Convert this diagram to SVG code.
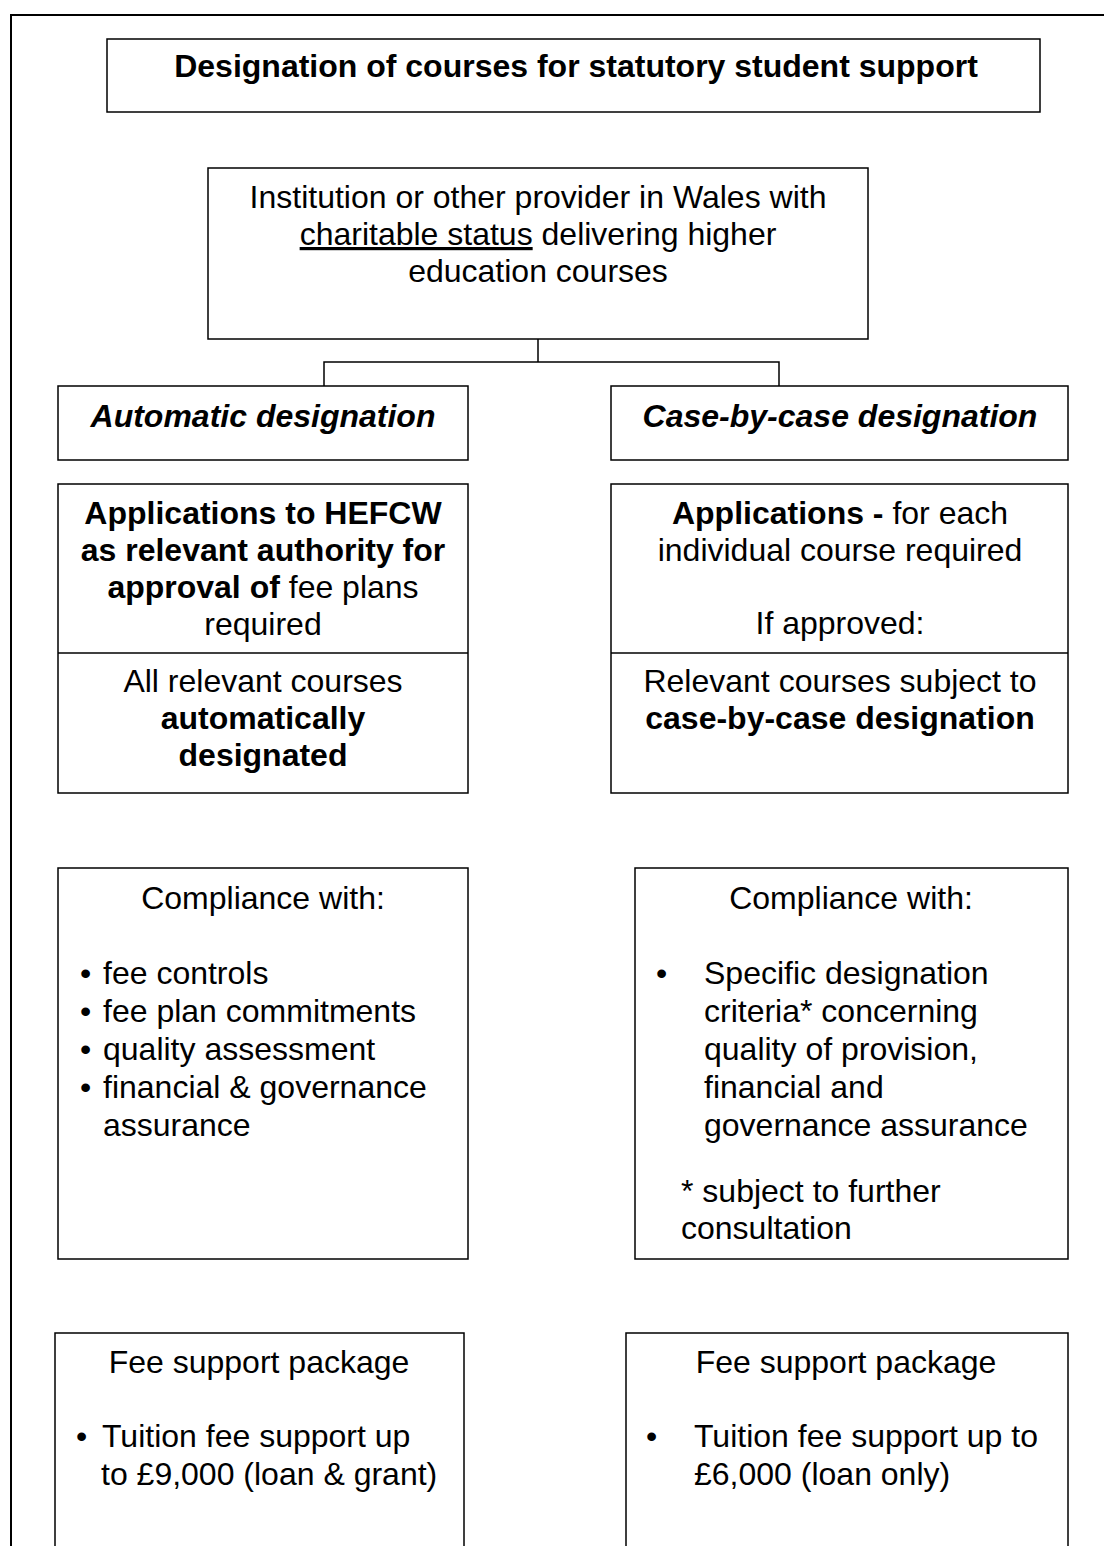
<svg xmlns="http://www.w3.org/2000/svg" width="1104" height="1546" viewBox="0 0 1104 1546">
  <style>
    .box { fill: #fff; stroke: #000; stroke-width: 1.5; }
    .frame { fill: none; stroke: #000; stroke-width: 2; }
    .wire { fill: none; stroke: #000; stroke-width: 1.5; }
    text { font-family: "Liberation Sans", Arial, sans-serif; font-size: 32px; fill: #000; }
    .c { text-anchor: middle; }
    .b { font-weight: bold; }
    .bi { font-weight: bold; font-style: italic; }
  </style>

  <rect width="1104" height="1546" fill="#fff"/>

  <!-- outer page frame (continues off the right and bottom edges) -->
  <rect class="frame" x="11" y="15" width="1200" height="1600"/>

  <g id="title">
    <rect class="box" x="107" y="39" width="933" height="73"/>
    <text class="c b" x="576" y="77">Designation of courses for statutory student support</text>
  </g>

  <g id="connectors">
    <path class="wire" d="M538 339 V362 M324 386 V362 H779 V386"/>
  </g>

  <g id="provider">
    <rect class="box" x="208" y="168" width="660" height="171"/>
    <text class="c" x="538" y="208">Institution or other provider in Wales with</text>
    <text class="c" x="538" y="245"><tspan text-decoration="underline">charitable status</tspan> delivering higher</text>
    <text class="c" x="538" y="282">education courses</text>
  </g>

  <g id="automatic">
    <rect class="box" x="58" y="386" width="410" height="74"/>
    <text class="c bi" x="263" y="427">Automatic designation</text>
  </g>

  <g id="case-by-case">
    <rect class="box" x="611" y="386" width="457" height="74"/>
    <text class="c bi" x="840" y="427">Case-by-case designation</text>
  </g>

  <g id="automatic-application">
    <rect class="box" x="58" y="484" width="410" height="309"/>
    <line class="wire" x1="58" y1="653" x2="468" y2="653"/>
    <text class="c b" x="263" y="524">Applications to HEFCW</text>
    <text class="c b" x="263" y="561">as relevant authority for</text>
    <text class="c" x="263" y="598"><tspan class="b">approval of</tspan> fee plans</text>
    <text class="c" x="263" y="635">required</text>
    <text class="c" x="263" y="692">All relevant courses</text>
    <text class="c b" x="263" y="729">automatically</text>
    <text class="c b" x="263" y="766">designated</text>
  </g>

  <g id="case-application">
    <rect class="box" x="611" y="484" width="457" height="309"/>
    <line class="wire" x1="611" y1="653" x2="1068" y2="653"/>
    <text class="c" x="840" y="524"><tspan class="b">Applications -</tspan> for each</text>
    <text class="c" x="840" y="561">individual course required</text>
    <text class="c" x="840" y="634">If approved:</text>
    <text class="c" x="840" y="692">Relevant courses subject to</text>
    <text class="c b" x="840" y="729">case-by-case designation</text>
  </g>

  <g id="automatic-compliance">
    <rect class="box" x="58" y="868" width="410" height="391"/>
    <text class="c" x="263" y="909">Compliance with:</text>
    <text x="80" y="984">•</text><text x="103" y="984">fee controls</text>
    <text x="80" y="1022">•</text><text x="103" y="1022">fee plan commitments</text>
    <text x="80" y="1060">•</text><text x="103" y="1060">quality assessment</text>
    <text x="80" y="1098">•</text><text x="103" y="1098">financial &amp; governance</text>
    <text x="103" y="1136">assurance</text>
  </g>

  <g id="case-compliance">
    <rect class="box" x="635" y="868" width="433" height="391"/>
    <text class="c" x="851" y="909">Compliance with:</text>
    <text x="656" y="984">•</text>
    <text x="704" y="984">Specific designation</text>
    <text x="704" y="1022">criteria* concerning</text>
    <text x="704" y="1060">quality of provision,</text>
    <text x="704" y="1098">financial and</text>
    <text x="704" y="1136">governance assurance</text>
    <text x="681" y="1202">* subject to further</text>
    <text x="681" y="1239">consultation</text>
  </g>

  <g id="automatic-fees">
    <rect class="box" x="55" y="1333" width="409" height="300"/>
    <text class="c" x="259" y="1373">Fee support package</text>
    <text x="76" y="1447">•</text>
    <text x="102" y="1447">Tuition fee support up</text>
    <text x="101" y="1485">to £9,000 (loan &amp; grant)</text>
  </g>

  <g id="case-fees">
    <rect class="box" x="626" y="1333" width="442" height="300"/>
    <text class="c" x="846" y="1373">Fee support package</text>
    <text x="646" y="1447">•</text>
    <text x="694" y="1447">Tuition fee support up to</text>
    <text x="694" y="1485">£6,000 (loan only)</text>
  </g>
</svg>
